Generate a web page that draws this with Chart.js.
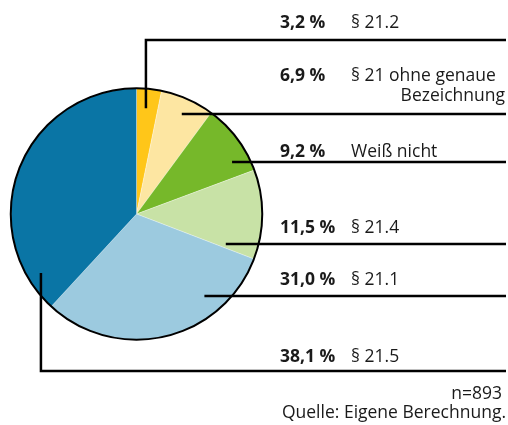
<!DOCTYPE html>
<html>
<head>
<meta charset="utf-8">
<script src="https://cdn.jsdelivr.net/npm/chart.js@4"></script>
<style>
  html, body { margin: 0; padding: 0; background: #fff; }
  #wrap { width: 508px; height: 425px; }
</style>
</head>
<body>
<div id="wrap"><canvas id="pie" width="508" height="425"></canvas></div>
<script>
// Data
const categories = ['§ 21.2', '§ 21 ohne genaue|Bezeichnung', 'Weiß nicht', '§ 21.4', '§ 21.1', '§ 21.5'];
const shares = [3.2, 6.9, 9.2, 11.5, 31.0, 38.1];
const sliceColors = ['#ffc619', '#fde6a2', '#76b82a', '#c8e2a6', '#9ccadf', '#0a75a5'];
const sampleNote = 'n=893';
const sourceNote = 'Quelle: Eigene Berechnung.';

// label rows: text baseline, leader line y, where the leader starts (relative to pie centre, in radii)
const rows = [
    { text: 28, line: 40, elbow: true, sx: 0.075, sy: -0.84 },
    { text: 81, line: 114, sx: 0.36, sy: null },
    { text: 157, line: 162, sx: 0.76, sy: null },
    { text: 233, line: 244, sx: 0.71, sy: null },
    { text: 285, line: 296, sx: 0.54, sy: null },
    { text: 362, line: 371, elbow: true, sx: -0.76, sy: 0.47 }
];

const FONT = '"Open Sans", "Noto Sans", sans-serif';
const SIZE = 17.5;

function fmtPct(v) {
    return v.toFixed(1).replace('.', ',') + ' %';
}

const labelPlugin = {
    id: 'labels',
    afterDraw(chart) {
        const ctx = chart.ctx;
        const arc = chart.getDatasetMeta(0).data[0];
        const cx = arc.x, cy = arc.y, r = arc.outerRadius;

        // outer ring
        ctx.save();
        ctx.beginPath();
        ctx.arc(cx, cy, r, 0, Math.PI * 2);
        ctx.lineWidth = 2;
        ctx.strokeStyle = '#000';
        ctx.stroke();

        // leader lines
        ctx.lineWidth = 2.5;
        ctx.lineCap = 'butt';
        rows.forEach(row => {
            const x0 = cx + row.sx * r;
            ctx.beginPath();
            if (row.elbow) {
                ctx.moveTo(x0, cy + row.sy * r);
                ctx.lineTo(x0, row.line);
            } else {
                ctx.moveTo(x0, row.line);
            }
            ctx.lineTo(506, row.line);
            ctx.stroke();
        });

        // texts
        ctx.fillStyle = '#1a1a1a';
        ctx.textBaseline = 'alphabetic';
        shares.forEach((v, i) => {
            const row = rows[i];
            ctx.textAlign = 'left';
            ctx.font = 'bold ' + SIZE + 'px ' + FONT;
            ctx.fillText(fmtPct(v), 280, row.text);
            ctx.font = SIZE + 'px ' + FONT;
            const parts = categories[i].split('|');
            ctx.fillText(parts[0], 351, row.text);
            if (parts[1]) {
                ctx.textAlign = 'right';
                ctx.fillText(parts[1], 505, row.text + 20);
            }
        });

        ctx.textAlign = 'right';
        ctx.font = SIZE + 'px ' + FONT;
        ctx.fillText(sampleNote, 502, 399);
        ctx.fillText(sourceNote, 506, 418);
        ctx.restore();
    }
};

new Chart(document.getElementById('pie'), {
    type: 'pie',
    data: {
        labels: categories.map(c => c.replace('|', ' ')),
        datasets: [{
            data: shares,
            backgroundColor: sliceColors,
            borderColor: 'rgba(255,255,255,0.6)',
            borderWidth: 0.5
        }]
    },
    options: {
        responsive: false,
        animation: false,
        layout: { padding: { left: 10, top: 88, right: 245, bottom: 85 } },
        plugins: {
            legend: { display: false },
            tooltip: { enabled: false }
        }
    },
    plugins: [labelPlugin]
});
</script>
</body>
</html>
